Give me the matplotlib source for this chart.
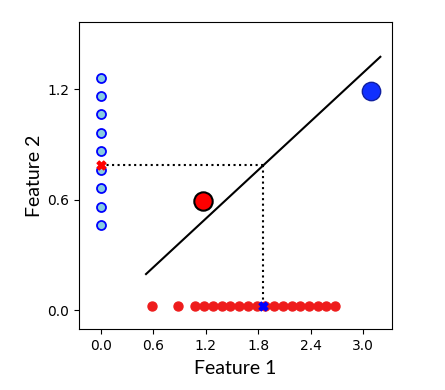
import matplotlib
matplotlib.use("Agg")
import matplotlib.pyplot as plt
import numpy as np

# Data
blue_feature2 = [0.462, 0.561, 0.661, 0.761, 0.864, 0.963, 1.065, 1.163, 1.26]
red_feature1 = [0.58, 0.88, 1.08, 1.18, 1.28, 1.38, 1.48, 1.58, 1.68, 1.78, 1.88,
                1.98, 2.08, 2.18, 2.28, 2.38, 2.48, 2.58, 2.68]
red_y = 0.02
red_mean = (1.17, 0.59)
blue_mean = (3.09, 1.19)
line_x = [0.515, 3.196]
line_y = [0.196, 1.375]
proj_point = (1.85, 0.79)
xticks = [0.0, 0.6, 1.2, 1.8, 2.4, 3.0]
yticks = [0.0, 0.6, 1.2]

fig = plt.figure(figsize=(4.45, 3.9), dpi=100)
ax = fig.add_axes([0.1775, 0.156, 0.7035, 0.7876])

ax.scatter(red_feature1, [red_y] * len(red_feature1), s=42, color='#ee1c1c', zorder=3)
ax.scatter([0] * len(blue_feature2), blue_feature2, s=42, facecolor='#88cce0',
           edgecolor='blue', linewidth=1.3, zorder=3)

ax.plot(line_x, line_y, color='black', linewidth=1.5, zorder=2)
ax.plot([0, proj_point[0]], [proj_point[1], proj_point[1]], color='black', linestyle=':', linewidth=1.5, zorder=2)
ax.plot([proj_point[0], proj_point[0]], [proj_point[1], 0], color='black', linestyle=':', linewidth=1.5, zorder=2)

ax.scatter([0], [proj_point[1]], marker='X', s=40, color='red', zorder=4)
ax.scatter([proj_point[0]], [red_y], marker='X', s=40, color='blue', zorder=4)

ax.scatter([red_mean[0]], [red_mean[1]], s=175, facecolor='red', edgecolor='black', linewidth=1.5, zorder=5)
ax.scatter([blue_mean[0]], [blue_mean[1]], s=175, facecolor='#1030ff', edgecolor='#1020a0', linewidth=1, zorder=5)

ax.set_xlim(-0.252, 3.33)
ax.set_ylim(-0.103, 1.564)
ax.set_xticks(xticks)
ax.set_yticks(yticks)
ax.set_xticklabels([f"{v:.1f}" for v in xticks])
ax.set_yticklabels([f"{v:.1f}" for v in yticks])
ax.set_xlabel("Feature 1", fontsize=14, family='Lato', labelpad=5)
ax.set_ylabel("Feature 2", fontsize=14, family='Lato', labelpad=3)

fig.savefig("out.png", dpi=100)
